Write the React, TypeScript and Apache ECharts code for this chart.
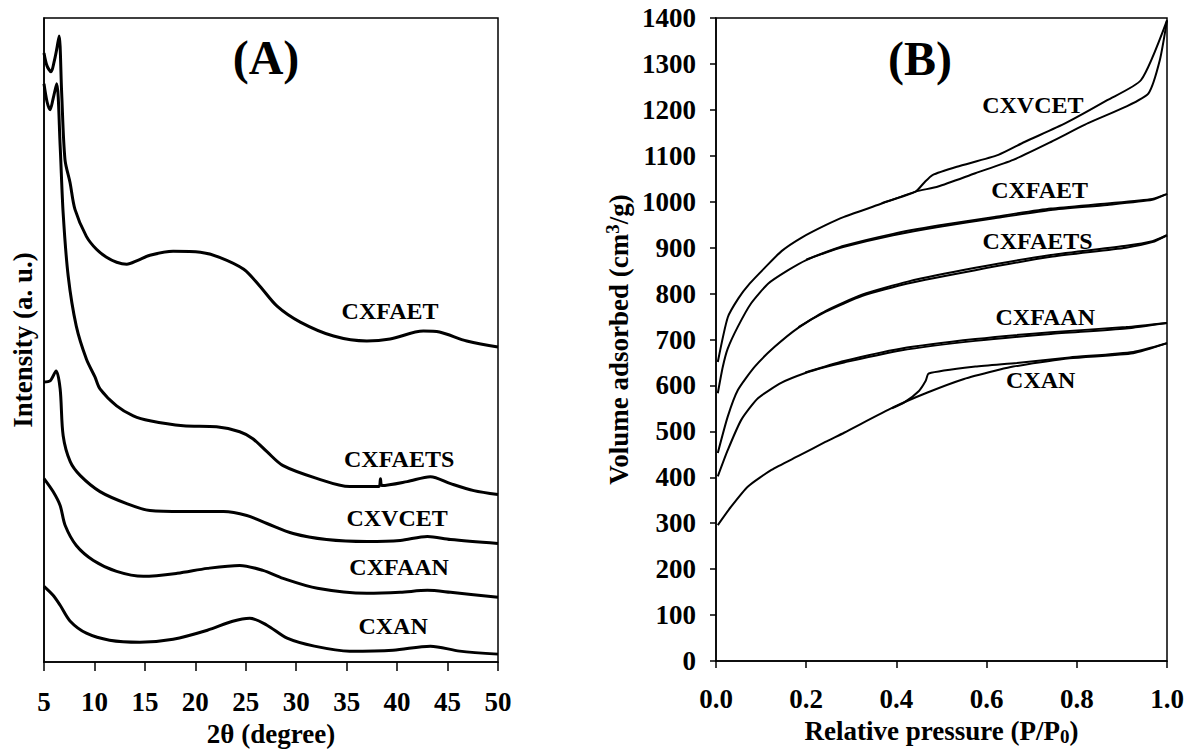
import React, { useEffect, useRef } from "react";
import * as echarts from "echarts";

const FONT = "Liberation Serif";

// ---------- Panel A: XRD patterns (2θ in degree, intensity in a.u.) ----------
const xrdCXFAET: number[][] = [
  [5.0, 611], [5.3, 598], [5.7, 592], [6.0, 602], [6.25, 614], [6.5, 628], [6.75, 571], [7.08, 504],
  [7.58, 481], [8.07, 454], [9.2, 427], [10.2, 414], [11.2, 406], [12.2, 401], [13.2, 399], [14.3, 403],
  [15.5, 408], [17.8, 412], [20.5, 411], [22.4, 406], [24.8, 394], [26.4, 377], [28.1, 357], [30.4, 341],
  [33.7, 327], [37.0, 322], [39.3, 324], [42.6, 332], [44.2, 331], [46.9, 322], [50.0, 316],
];
const xrdCXFAETS: number[][] = [
  [5.0, 580], [5.3, 562], [5.6, 554], [5.9, 565], [6.26, 580], [6.6, 518], [6.9, 450], [7.4, 387],
  [8.2, 337], [9.2, 304], [10.05, 286], [10.55, 274], [12.2, 257], [13.85, 247], [15.5, 242], [18.8, 237],
  [22.1, 236], [24.4, 231], [25.7, 224], [27.1, 211], [28.7, 197], [32.1, 184], [35.3, 176], [38.2, 176],
  [38.35, 184], [38.5, 177], [41.0, 181], [43.3, 186], [45.3, 179], [47.6, 172], [50.0, 168],
];
const xrdCXVCET: number[][] = [
  [5.0, 281], [5.6, 282], [6.2, 292], [6.6, 274], [6.9, 227], [7.6, 201], [8.6, 187], [10.55, 171],
  [13.2, 159], [15.5, 152], [18.8, 151], [22.8, 151], [25.1, 147], [27.1, 139], [29.7, 129], [33.0, 123],
  [37.0, 121], [40.3, 122], [43.0, 126], [45.3, 123], [50.0, 119],
];
const xrdCXFAAN: number[][] = [
  [5.0, 184], [5.9, 171], [6.6, 157], [7.1, 137], [8.2, 117], [9.9, 102], [12.2, 91], [14.85, 86],
  [18.2, 89], [21.2, 94], [24.4, 97], [26.7, 92], [28.7, 84], [32.1, 74], [37.0, 69], [40.3, 70],
  [43.0, 72], [45.3, 70], [50.0, 65],
];
const xrdCXAN: number[][] = [
  [5.0, 76], [5.9, 67], [6.6, 57], [7.6, 41], [9.2, 29], [11.5, 22], [14.5, 20], [17.8, 23], [21.2, 32],
  [23.7, 41], [25.4, 44], [27.1, 37], [29.1, 24], [31.8, 16], [35.3, 11], [39.6, 12], [43.3, 16],
  [46.2, 11], [50.0, 8],
];
const xrdLabels: (number | string)[][] = [
  [39.3, 352, "CXFAET"], [40.2, 204, "CXFAETS"], [40.0, 145, "CXVCET"], [40.2, 95, "CXFAAN"], [39.6, 36, "CXAN"],
];

// ---------- Panel B: N2 isotherms (P/P0, cm3/g) ----------
const adsCXVCET: number[][] = [
  [0.004, 651], [0.026, 748], [0.05, 790], [0.075, 822], [0.108, 856], [0.146, 893], [0.19, 922],
  [0.243, 949], [0.284, 967], [0.3675, 996], [0.4425, 1022], [0.4925, 1033], [0.575, 1062], [0.659, 1091],
  [0.7425, 1130], [0.825, 1171], [0.909, 1207], [0.959, 1236], [0.984, 1308], [1.0, 1395],
];
const desCXVCET: number[][] = [
  [1.0, 1395], [0.9425, 1265], [0.8675, 1221], [0.775, 1171], [0.684, 1130], [0.626, 1102], [0.534, 1076],
  [0.48, 1058], [0.462, 1042], [0.4425, 1022], [0.3675, 997],
];
const adsCXFAET: number[][] = [
  [0.004, 583], [0.015, 640], [0.026, 680], [0.0485, 728], [0.078, 779], [0.116, 822], [0.16, 851],
  [0.2, 873], [0.2425, 889], [0.284, 902], [0.3925, 927], [0.4925, 945], [0.6175, 964], [0.7425, 982],
  [0.8675, 993], [0.9675, 1004], [1.0, 1017],
];
const desCXFAET: number[][] = [
  [1.0, 1017], [0.9675, 1006], [0.8675, 996], [0.7425, 985], [0.6175, 967], [0.4925, 948], [0.3925, 930],
  [0.284, 904], [0.2, 874],
];
const adsCXFAETS: number[][] = [
  [0.004, 453], [0.026, 532], [0.0485, 590], [0.086, 641], [0.13, 684], [0.183, 726], [0.2425, 760],
  [0.325, 795], [0.425, 822], [0.575, 851], [0.7425, 880], [0.909, 900], [0.9675, 912], [1.0, 927],
];
const desCXFAETS: number[][] = [
  [1.0, 927], [0.9675, 914], [0.909, 904], [0.7425, 884], [0.575, 856], [0.425, 826], [0.325, 798],
  [0.2425, 762], [0.183, 727],
];
const adsCXFAAN: number[][] = [
  [0.004, 402], [0.026, 459], [0.056, 525], [0.093, 572], [0.1455, 606], [0.198, 627], [0.2425, 640],
  [0.284, 650], [0.409, 676], [0.575, 697], [0.7425, 712], [0.909, 724], [1.0, 736],
];
const desCXFAAN: number[][] = [
  [1.0, 736], [0.909, 727], [0.7425, 716], [0.575, 701], [0.409, 680], [0.284, 653], [0.198, 628],
];
const adsCXAN: number[][] = [
  [0.004, 296], [0.0335, 336], [0.071, 380], [0.123, 416], [0.184, 447], [0.2425, 477], [0.284, 497],
  [0.3925, 552], [0.4675, 584], [0.55, 614], [0.6275, 634], [0.659, 641], [0.784, 659], [0.925, 670],
  [1.0, 692],
];
const desCXAN: number[][] = [
  [1.0, 692], [0.925, 673], [0.784, 661], [0.667, 649], [0.575, 641], [0.4717, 626], [0.465, 610],
  [0.45, 588], [0.4175, 563], [0.39, 550],
];
const isoLabels: (number | string)[][] = [
  [0.7025, 1210, "CXVCET"], [0.7175, 1025, "CXFAET"], [0.713, 915, "CXFAETS"], [0.73, 750, "CXFAAN"], [0.72, 612, "CXAN"],
];

const xTicksA = { min: 5, max: 50, interval: 5 };
const yTicksB = { min: 0, max: 1400, interval: 100 };
const xTicksB = { min: 0, max: 1, interval: 0.2 };

const black = "#000";
const boldText = { fontFamily: FONT, fontWeight: "bold" as const, color: black };

function lineSeries(data: number[][], xi: number, width: number, smooth: number) {
  return {
    type: "line",
    xAxisIndex: xi,
    yAxisIndex: xi,
    data,
    showSymbol: false,
    symbol: "none",
    smooth,
    lineStyle: { color: black, width, opacity: 1 },
    silent: true,
  };
}

function labelSeries(data: (number | string)[][], xi: number) {
  return {
    type: "scatter",
    xAxisIndex: xi,
    yAxisIndex: xi,
    data,
    symbolSize: 0,
    silent: true,
    itemStyle: { opacity: 1, color: black },
    label: {
      show: true,
      position: "inside",
      formatter: (p: any) => p.data[2],
      fontSize: 24,
      textBorderWidth: 0,
      opacity: 1,
      ...boldText,
    },
  };
}

export default function App() {
  const ref = useRef<HTMLDivElement>(null);
  useEffect(() => {
    const chart = echarts.init(ref.current!, null, { renderer: "svg" });
    const axisLine = { show: true, onZero: false, lineStyle: { color: black, width: 1.5 } };
    chart.setOption({
      animation: false,
      backgroundColor: "#fff",
      grid: [
        { left: 44, top: 18, width: 454, height: 646, show: true, borderColor: black, borderWidth: 1.5, backgroundColor: "transparent" },
        { left: 716, top: 18, width: 451, height: 643, show: true, borderColor: black, borderWidth: 1.5, backgroundColor: "transparent" },
      ],
      xAxis: [
        {
          type: "value", gridIndex: 0, ...xTicksA,
          axisLine, axisTick: { show: true, length: 9, lineStyle: { color: black, width: 1.5 } },
          splitLine: { show: false },
          axisLabel: { fontSize: 27, margin: 26, ...boldText },
          name: "2θ (degree)", nameLocation: "middle", nameGap: 57,
          nameTextStyle: { fontSize: 27, ...boldText },
        },
        {
          type: "value", gridIndex: 1, ...xTicksB,
          axisLine, axisTick: { show: true, length: 7, lineStyle: { color: black, width: 1.5 } },
          splitLine: { show: false },
          axisLabel: { fontSize: 27, margin: 24, ...boldText, formatter: (v: number) => v.toFixed(1) },
          name: "Relative pressure (P/P{sub|0})", nameLocation: "middle", nameGap: 54,
          nameTextStyle: {
            fontSize: 27, ...boldText,
            rich: { sub: { fontSize: 19, ...boldText, verticalAlign: "bottom", padding: [12, 0, 0, 0] } },
          },
        },
      ],
      yAxis: [
        {
          type: "value", gridIndex: 0, min: 0, max: 646,
          axisLine, axisTick: { show: false }, axisLabel: { show: false }, splitLine: { show: false },
          name: "Intensity (a. u.)", nameLocation: "middle", nameGap: 8,
          nameTextStyle: { fontSize: 27, ...boldText },
        },
        {
          type: "value", gridIndex: 1, ...yTicksB,
          axisLine, axisTick: { show: true, length: 6, lineStyle: { color: black, width: 1.5 } },
          splitLine: { show: false },
          axisLabel: { fontSize: 27, margin: 20, ...boldText, formatter: (v: number) => String(v) },
          name: "Volume adsorbed (cm{sup|3}/g)", nameLocation: "middle", nameGap: 82,
          nameTextStyle: {
            fontSize: 27, ...boldText,
            rich: { sup: { fontSize: 19, ...boldText, verticalAlign: "top", padding: [0, 0, 12, 0] } },
          },
        },
      ],
      graphic: [
        { type: "text", x: 266, y: 57, style: { text: "(A)", fontSize: 48, fontFamily: FONT, fontWeight: "bold", fill: black, textAlign: "center", textVerticalAlign: "middle" } },
        { type: "text", x: 920, y: 58, style: { text: "(B)", fontSize: 48, fontFamily: FONT, fontWeight: "bold", fill: black, textAlign: "center", textVerticalAlign: "middle" } },
      ],
      series: [
        lineSeries(xrdCXFAET, 0, 3, 0.3),
        lineSeries(xrdCXFAETS, 0, 3, 0.3),
        lineSeries(xrdCXVCET, 0, 3, 0.3),
        lineSeries(xrdCXFAAN, 0, 3, 0.3),
        lineSeries(xrdCXAN, 0, 3, 0.3),
        labelSeries(xrdLabels, 0),
        lineSeries(adsCXVCET, 1, 2, 0.2),
        lineSeries(desCXVCET, 1, 2, 0.2),
        lineSeries(adsCXFAET, 1, 2, 0.2),
        lineSeries(desCXFAET, 1, 2, 0.2),
        lineSeries(adsCXFAETS, 1, 2, 0.2),
        lineSeries(desCXFAETS, 1, 2, 0.2),
        lineSeries(adsCXFAAN, 1, 2, 0.2),
        lineSeries(desCXFAAN, 1, 2, 0.2),
        lineSeries(adsCXAN, 1, 2, 0.2),
        lineSeries(desCXAN, 1, 2, 0.2),
        labelSeries(isoLabels, 1),
      ],
    });
    return () => chart.dispose();
  }, []);
  return (
    <div
      ref={ref}
      style={{ position: "fixed", left: 0, top: 0, width: 1189, height: 752, background: "#fff" }}
    />
  );
}
